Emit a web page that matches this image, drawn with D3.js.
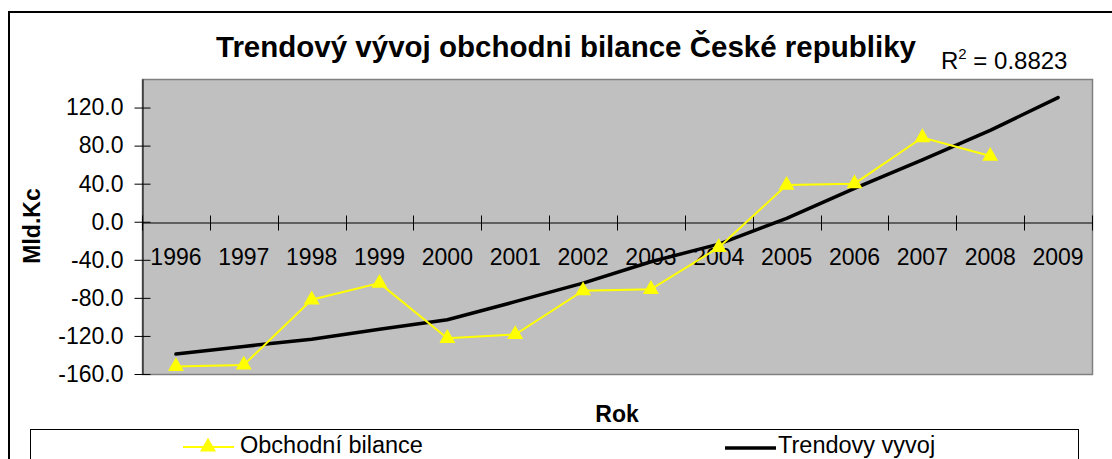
<!DOCTYPE html>
<html>
<head>
<meta charset="utf-8">
<script src="https://cdn.jsdelivr.net/npm/d3@7"></script>
<style>
  body { margin: 0; background: #fff; }
  svg { display: block; font-family: "Liberation Sans", Arial, sans-serif; }
</style>
</head>
<body>
<div id="chart"></div>
<script>
// Data
const years = ['1996', '1997', '1998', '1999', '2000', '2001', '2002', '2003',
               '2004', '2005', '2006', '2007', '2008', '2009'];
const balance = [-152, -150.5, -82, -64.5, -122.5, -118.5, -72.5, -71, -27, 38.5, 40, 88.5, 69];
const trend = [-139, -131, -123.5, -113, -103, -84, -64.5, -42, -23.5, 3.5, 35, 65, 96, 130.5];
const yTicks = [-160, -120, -80, -40, 0, 40, 80, 120];

const width = 1112;
const height = 459;
const plot = { left: 142, top: 79, right: 1092, bottom: 374 };
const font = '"Liberation Sans", Arial, sans-serif';

const svg = d3.select('#chart')
    .append('svg')
    .attr('width', width)
    .attr('height', height);

// Outer chart border
svg.append('rect')
    .attr('x', 9).attr('y', 12)
    .attr('width', 1200).attr('height', 600)
    .attr('fill', '#fff')
    .attr('stroke', '#000')
    .attr('stroke-width', 2);

// Scales
const x = d3.scaleBand()
    .domain(years)
    .range([plot.left, plot.right]);

const y = d3.scaleLinear()
    .domain([-160, 150])
    .range([plot.bottom, plot.top]);

const cx = d => x(d) + x.bandwidth() / 2;

// Plot area
svg.append('rect')
    .attr('x', plot.left + 0.5).attr('y', plot.top + 0.5)
    .attr('width', plot.right - plot.left).attr('height', plot.bottom - plot.top)
    .attr('fill', '#c0c0c0')
    .attr('stroke', '#808080')
    .attr('stroke-width', 1.5);

// Y axis
const yAxis = svg.append('g')
    .attr('transform', `translate(${plot.left + 0.5},0)`)
    .call(d3.axisLeft(y)
        .tickValues(yTicks)
        .tickFormat(d => d.toFixed(1))
        .tickSizeInner(8)
        .tickSizeOuter(0)
        .tickPadding(11));
yAxis.select('.domain').attr('stroke', '#000');
yAxis.selectAll('.tick line').attr('x1', 8).attr('stroke', '#000');
yAxis.selectAll('.tick text')
    .attr('font-size', 23)
    .attr('font-family', font)
    .attr('fill', '#000');

// X axis along zero line
const y0 = Math.round(y(0)) + 0.5;
const xAxis = svg.append('g')
    .attr('transform', `translate(0,${y0})`)
    .call(d3.axisBottom(x).tickSize(0).tickPadding(26));
xAxis.select('.domain').attr('stroke', '#000');
xAxis.selectAll('.tick text')
    .attr('font-size', 23)
    .attr('font-family', font)
    .attr('fill', '#000');

// category boundary tick marks
const bounds = years.map(d => x(d)).concat([x(years[years.length - 1]) + x.bandwidth()]);
svg.append('g')
    .selectAll('line')
    .data(bounds)
    .enter()
    .append('line')
    .attr('x1', d => Math.round(d) + 0.5)
    .attr('x2', d => Math.round(d) + 0.5)
    .attr('y1', y0 - 7)
    .attr('y2', y0 + 8)
    .attr('stroke', '#000');

// Trend line
const line = d3.line()
    .x((d, i) => cx(years[i]))
    .y(d => y(d));

svg.append('path')
    .datum(trend)
    .attr('d', line)
    .attr('fill', 'none')
    .attr('stroke', '#000')
    .attr('stroke-width', 3.5)
    .attr('stroke-linejoin', 'round')
    .attr('stroke-linecap', 'round');

// Trade balance line + triangles
svg.append('path')
    .datum(balance)
    .attr('d', line)
    .attr('fill', 'none')
    .attr('stroke', '#ffff00')
    .attr('stroke-width', 2);

const tri = d3.symbol().type(d3.symbolTriangle).size(110);
svg.append('g')
    .selectAll('path')
    .data(balance)
    .enter()
    .append('path')
    .attr('d', tri)
    .attr('transform', (d, i) => `translate(${cx(years[i])},${y(d)})`)
    .attr('fill', '#ffff00');

// Title
svg.append('text')
    .attr('x', 566).attr('y', 57)
    .attr('text-anchor', 'middle')
    .attr('font-size', 29.5)
    .attr('font-weight', 'bold')
    .text('Trendový vývoj obchodni bilance České republiky');

// R squared
const r2 = svg.append('text')
    .attr('x', 941).attr('y', 69)
    .attr('font-size', 24);
r2.append('tspan').text('R');
r2.append('tspan').attr('font-size', 15).attr('dy', -10).text('2');
r2.append('tspan').attr('dy', 10).text(' = 0.8823');

// Axis titles
svg.append('text')
    .attr('transform', 'translate(40,226) rotate(-90)')
    .attr('text-anchor', 'middle')
    .attr('font-size', 23)
    .attr('font-weight', 'bold')
    .text('Mld.Kc');

svg.append('text')
    .attr('x', 617).attr('y', 422)
    .attr('text-anchor', 'middle')
    .attr('font-size', 23)
    .attr('font-weight', 'bold')
    .text('Rok');

// Legend
svg.append('rect')
    .attr('x', 30.5).attr('y', 429.5)
    .attr('width', 1048).attr('height', 60)
    .attr('fill', '#fff')
    .attr('stroke', '#000');

svg.append('line')
    .attr('x1', 183).attr('x2', 234)
    .attr('y1', 447).attr('y2', 447)
    .attr('stroke', '#ffff00').attr('stroke-width', 2);
svg.append('path')
    .attr('d', tri)
    .attr('transform', 'translate(208,447)')
    .attr('fill', '#ffff00');
svg.append('text')
    .attr('x', 240).attr('y', 453)
    .attr('font-size', 23.5)
    .text('Obchodní bilance');

svg.append('line')
    .attr('x1', 725).attr('x2', 776)
    .attr('y1', 448).attr('y2', 448)
    .attr('stroke', '#000').attr('stroke-width', 3.5);
svg.append('text')
    .attr('x', 778).attr('y', 453)
    .attr('font-size', 23.5)
    .text('Trendovy vyvoj');
</script>
</body>
</html>
